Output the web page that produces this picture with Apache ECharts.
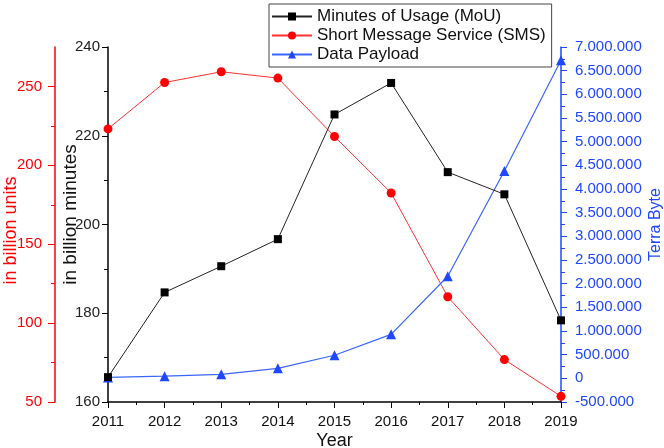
<!DOCTYPE html>
<html><head><meta charset="utf-8">
<script src="https://cdn.jsdelivr.net/npm/echarts@6/dist/echarts.min.js"></script>
<style>html,body{margin:0;padding:0;background:#fff}#c{width:664px;height:448px}</style>
</head><body><div id="c"></div>
<script>
var years = [2011, 2012, 2013, 2014, 2015, 2016, 2017, 2018, 2019];
var mou = [165.6, 184.7, 190.6, 196.7, 224.8, 231.9, 211.8, 206.8, 178.4];
var sms = [223.1, 252.5, 259.3, 255.3, 218.3, 182.5, 116.7, 76.9, 53.6];
var payload = [20000, 45000, 85000, 212000, 487000, 930000, 2156000, 4380000, 6719000];
var redMajor = [50, 100, 150, 200, 250];
var redMinor = [75, 125, 175, 225];

function pair(xs, ys) { return xs.map(function (x, i) { return [x, ys[i]]; }); }
function dots(v) {
  var s = String(Math.abs(v)).replace(/\B(?=(\d{3})+(?!\d))/g, '.');
  return (v < 0 ? '-' : '') + s;
}
var FONT = 'Liberation Sans, Arial, sans-serif';
var RED = '#ff0000', BLUE = '#1f47ff', BLK = '#000000';

var chart = echarts.init(document.getElementById('c'), null, {renderer: 'canvas'});
chart.setOption({
  animation: false,
  textStyle: {fontFamily: FONT},
  grid: {left: 108, right: 103, top: 47, bottom: 46, containLabel: false, outerBoundsMode: 'none'},
  legend: {
    orient: 'vertical', left: 269, top: 4,
    padding: [4, 6, 4, 2], itemGap: 2, itemWidth: 40, itemHeight: 10,
    borderColor: '#444', borderWidth: 1, backgroundColor: '#fff',
    textStyle: {fontFamily: FONT, fontSize: 17, color: '#111', lineHeight: 17},
    data: ['Minutes of Usage (MoU)', 'Short Message Service (SMS)', 'Data Payload']
  },
  xAxis: {
    type: 'value', min: 2011, max: 2019, interval: 1,
    name: 'Year', nameLocation: 'middle', nameGap: 30, nameMoveOverlap: false,
    nameTextStyle: {fontFamily: FONT, fontSize: 18, color: '#111'},
    axisLine: {onZero: false, lineStyle: {color: BLK, width: 1.5}},
    axisTick: {show: true, inside: false, length: 6, lineStyle: {color: BLK}},
    minorTick: {show: true, splitNumber: 2, length: 3, lineStyle: {color: BLK}},
    axisLabel: {fontFamily: FONT, fontSize: 15, color: '#111', margin: 12, formatter: function (v) { return String(v); }},
    splitLine: {show: false}
  },
  yAxis: [
    {
      type: 'value', min: 160, max: 240, interval: 20, position: 'left',
      name: 'in billion minutes', nameLocation: 'middle', nameGap: 28, nameRotate: 90, nameMoveOverlap: false,
      nameTextStyle: {fontFamily: FONT, fontSize: 19, color: '#111', padding: [0, 0, 0, 20]},
      axisLine: {show: true, onZero: false, lineStyle: {color: BLK, width: 1.5}},
      axisTick: {show: true, length: 6, lineStyle: {color: BLK}},
      minorTick: {show: true, splitNumber: 2, length: 4, lineStyle: {color: BLK}},
      axisLabel: {fontFamily: FONT, fontSize: 15, color: '#222', margin: 8},
      splitLine: {show: false}
    },
    {
      type: 'value', min: 50, max: 275, interval: 50, position: 'left', offset: 53,
      name: 'in billion units', nameLocation: 'middle', nameGap: 35, nameRotate: 90, nameMoveOverlap: false,
      nameTextStyle: {fontFamily: FONT, fontSize: 18, color: RED, padding: [0, 12, 0, 0]},
      axisLine: {show: true, onZero: false, lineStyle: {color: RED, width: 1.5}},
      axisTick: {show: true, length: 7, customValues: redMajor, lineStyle: {color: RED}},
      axisLabel: {fontFamily: FONT, fontSize: 15, color: RED, margin: 13, customValues: redMajor},
      splitLine: {show: false}
    },
    {
      type: 'value', min: -500000, max: 7000000, interval: 500000, position: 'right',
      name: 'Terra Byte', nameLocation: 'middle', nameGap: 87, nameRotate: 90, nameMoveOverlap: false,
      nameTextStyle: {fontFamily: FONT, fontSize: 16, color: BLUE},
      axisLine: {show: true, onZero: false, lineStyle: {color: BLUE, width: 1.5}},
      axisTick: {show: true, length: 6, lineStyle: {color: BLUE}},
      minorTick: {show: true, splitNumber: 2, length: 4, lineStyle: {color: BLUE}},
      axisLabel: {fontFamily: FONT, fontSize: 15, color: BLUE, margin: 14, formatter: dots},
      splitLine: {show: false}
    },
    {
      type: 'value', min: 50, max: 275, position: 'left', offset: 53,
      axisLine: {show: false, onZero: false},
      axisTick: {show: true, length: 4, customValues: redMinor, lineStyle: {color: RED}},
      axisLabel: {show: false},
      splitLine: {show: false}
    }
  ],
  series: [
    {
      name: 'Minutes of Usage (MoU)', type: 'line', yAxisIndex: 0,
      data: pair(years, mou), symbol: 'rect', symbolSize: 8,
      itemStyle: {color: BLK}, lineStyle: {color: '#222', width: 1}, z: 3
    },
    {
      name: 'Short Message Service (SMS)', type: 'line', yAxisIndex: 1,
      data: pair(years, sms), symbol: 'circle', symbolSize: 9,
      itemStyle: {color: RED}, lineStyle: {color: '#ff3030', width: 1}, z: 2
    },
    {
      name: 'Data Payload', type: 'line', yAxisIndex: 2,
      data: pair(years, payload), symbol: 'triangle', symbolSize: 10,
      itemStyle: {color: BLUE}, lineStyle: {color: '#3a66ff', width: 1.2}, z: 2
    }
  ]
});
</script></body></html>
